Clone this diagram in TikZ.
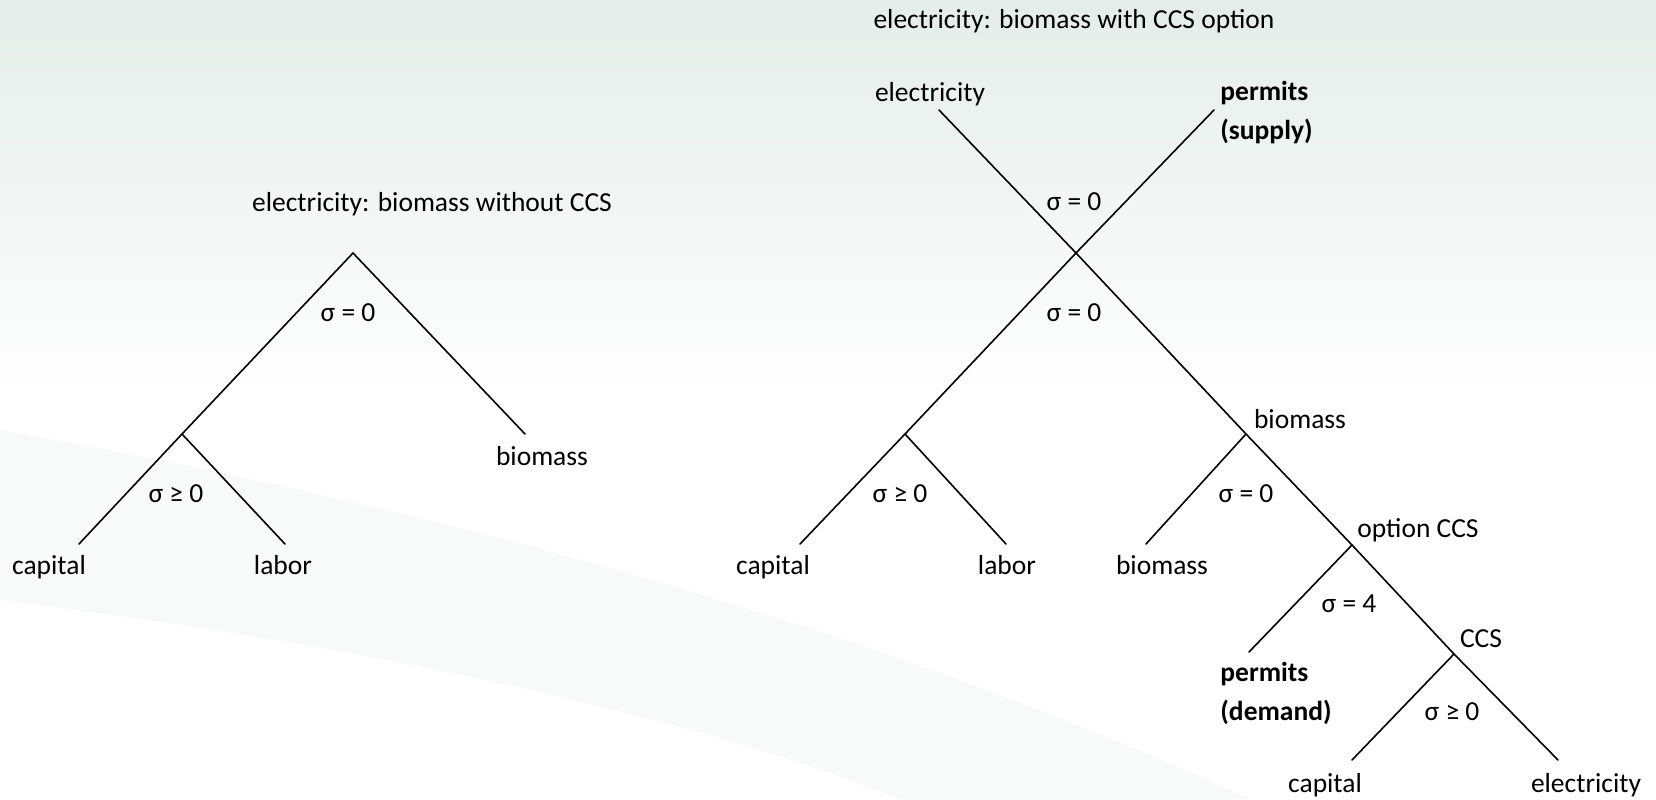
\documentclass[tikz,border=0pt]{standalone}
\usepackage{fontspec}
\setmainfont{Carlito}
\usepackage{xcolor}
\definecolor{bgtop}{RGB}{228,237,233}
\definecolor{swoosh}{RGB}{248,249,249}

\begin{document}
\begin{tikzpicture}[x=0.5pt, y=-0.5pt,
    lbl/.style={inner sep=0pt, yshift=-2.5pt, text height=1.4ex, text depth=0.4ex, font=\fontsize{13.75}{19.5}\selectfont},
    two/.style={lbl, align=left, anchor=west, text height=, text depth=, font=\fontsize{13.75}{19.5}\selectfont\bfseries},
    branch/.style={line width=0.8pt, line cap=round}]
    % Background
    \useasboundingbox (0,0) rectangle (1656,799);
    \fill[white] (0,0) rectangle (1656,799);
    \shade[top color=bgtop, bottom color=white] (0,0) rectangle (1656,400);
    \fill[swoosh] (0,430) .. controls (500,520) and (900,640) .. (1250,799) -- (0,799) -- cycle;
    \fill[white] (0,600) .. controls (400,650) and (700,720) .. (900,799) -- (0,799) -- cycle;

    % Without CCS: branch points and ends
    \coordinate (top1) at (353,253);
    \coordinate (va1) at (182,434);
    \coordinate (bio1) at (525,434);
    \coordinate (cap1) at (79,544);
    \coordinate (lab1) at (285,544);

    % With CCS option: branch points and ends
    \coordinate (cross) at (1076,253);
    \coordinate (ele0) at (939,110);
    \coordinate (sup) at (1214,110);
    \coordinate (va2) at (905,434);
    \coordinate (cap2) at (800,544);
    \coordinate (lab2) at (1006,544);
    \coordinate (bionest) at (1246,434);
    \coordinate (bio2) at (1146,544);
    \coordinate (opt) at (1352,545);
    \coordinate (dem) at (1249,652);
    \coordinate (ccs) at (1454,654);
    \coordinate (cap3) at (1352,760);
    \coordinate (ele3) at (1558,760);

    % Relationships
    \draw[branch] (cap1) -- (va1) -- (top1) -- (bio1);
    \draw[branch] (va1) -- (lab1);
    \draw[branch] (ele0) -- (cross) -- (bionest) -- (opt) -- (ccs) -- (ele3);
    \draw[branch] (sup) -- (cross) -- (va2) -- (cap2);
    \draw[branch] (va2) -- (lab2);
    \draw[branch] (bionest) -- (bio2);
    \draw[branch] (opt) -- (dem);
    \draw[branch] (ccs) -- (cap3);

    % Labels, left tree
    \node[lbl] (title1) at (432,202) {electricity: biomass without CCS};
    \node[lbl] (s1) at (348,312) {σ = 0};
    \node[lbl] (s2) at (176,493) {σ ≥ 0};
    \node[lbl] (tbio1) at (542,456) {biomass};
    \node[lbl] (tcap1) at (49,565) {capital};
    \node[lbl] (tlab1) at (283,565) {labor};

    % Labels, right tree
    \node[lbl] (title2) at (1074,19) {electricity: biomass with CCS option};
    \node[lbl] (tele0) at (930,92) {electricity};
    \node[two] (tsup) at (1220,108) {permits\\(supply)};
    \node[lbl] (s3) at (1074,201) {σ = 0};
    \node[lbl] (s4) at (1074,312) {σ = 0};
    \node[lbl] (s5) at (900,493) {σ ≥ 0};
    \node[lbl] (tcap2) at (773,565) {capital};
    \node[lbl] (tlab2) at (1007,565) {labor};
    \node[lbl] (tbionest) at (1300,419) {biomass};
    \node[lbl] (s6) at (1246,493) {σ = 0};
    \node[lbl] (tbio2) at (1162,565) {biomass};
    \node[lbl] (topt) at (1418,528) {option CCS};
    \node[lbl] (s7) at (1349,603) {σ = 4};
    \node[two] (tdem) at (1220,688) {permits\\(demand)};
    \node[lbl] (tccs) at (1481,638) {CCS};
    \node[lbl] (s8) at (1452,711) {σ ≥ 0};
    \node[lbl] (tcap3) at (1325,783) {capital};
    \node[lbl] (tele3) at (1586,783) {electricity};
\end{tikzpicture}
\end{document}
